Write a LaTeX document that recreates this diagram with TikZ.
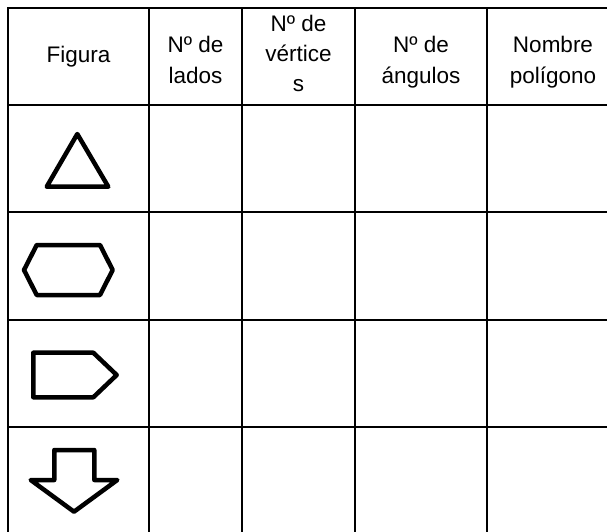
\documentclass[tikz,border=0pt]{standalone}
\usepackage{fontspec}
\setmainfont{Liberation Sans}
\begin{document}
\begin{tikzpicture}[x=1pt,y=-1pt,
  grid/.style={line width=2.2pt,line cap=rect},
  figshape/.style={line width=4.5pt,line join=round,line cap=round},
  hdr/.style={anchor=base,inner sep=0pt,font=\fontsize{22.5}{27}\selectfont}]
\useasboundingbox (0,0) rectangle (607,532);
\fill[white] (0,0) rectangle (607,532);
\clip (0,0) rectangle (607,532);
% grid
\foreach \x in {8,149,242,355,487} \draw[grid] (\x,8) -- (\x,540);
\foreach \y in {8,105,212,320,427} \draw[grid] (8,\y) -- (620,\y);
% header texts
\node[hdr] (figura) at (78.5,63) {Figura};
\node[hdr] (ladosa) at (195.5,53) {Nº de};
\node[hdr] (ladosb) at (195.5,84) {lados};
\node[hdr] (verta) at (298.5,32) {Nº de};
\node[hdr] (vertb) at (298.5,62) {vértice};
\node[hdr] (vertc) at (298.5,92) {s};
\node[hdr] (anga) at (421,53) {Nº de};
\node[hdr] (angb) at (421,84) {ángulos};
\node[hdr] (noma) at (553,53) {Nombre};
\node[hdr] (nomb) at (553,84) {polígono};
% figures
\draw[figshape] (77.3,134) -- (108.3,186.7) -- (46.7,186.7) -- cycle;
\draw[figshape] (24,270) -- (36.7,245) -- (100,245) -- (112.7,270) -- (100,295) -- (36.7,295) -- cycle;
\draw[figshape] (33.3,352.7) -- (93.3,352.7) -- (116.7,375) -- (93.3,397.3) -- (33.3,397.3) -- cycle;
\draw[figshape] (54.3,450) -- (94.3,450) -- (94.3,480) -- (117.3,480) -- (74,511.7) -- (30.7,480) -- (54.3,480) -- cycle;
\end{tikzpicture}
\end{document}
